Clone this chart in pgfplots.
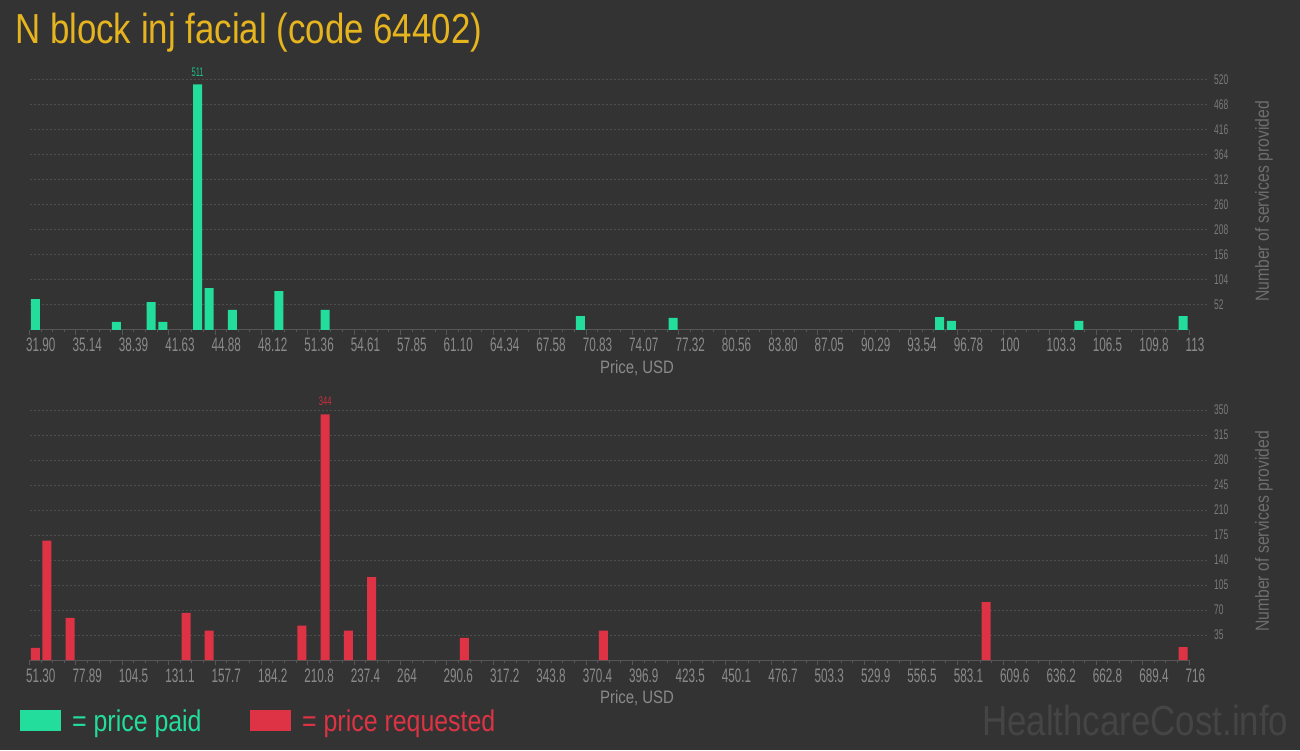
\documentclass[border=0pt]{standalone}
\usepackage{fontspec}
\setmainfont{Liberation Sans}[FakeStretch=0.83]
\newfontfamily\condfont{Liberation Sans}[FakeStretch=0.6]
\usepackage{pgfplots}
\pgfplotsset{compat=1.18}
\definecolor{bg}{HTML}{333333}
\definecolor{titlecol}{HTML}{E6B41E}
\definecolor{paid}{HTML}{22DD9B}
\definecolor{paidlab}{HTML}{1DBF87}
\definecolor{req}{HTML}{DD3344}
\definecolor{reqlab}{HTML}{C9303F}
\definecolor{gridcol}{HTML}{4E4E4E}
\definecolor{axiscol}{HTML}{565656}
\definecolor{ticklab}{HTML}{8A8A8A}
\definecolor{yticklab}{HTML}{7A7A7A}
\definecolor{ylabcol}{HTML}{6E6E6E}
\definecolor{wmcol}{HTML}{454545}
\pgfplotsset{
  hcstyle/.style={
    anchor=south west, scale only axis, width=1159.5pt, height=250pt,
    xmin=0, xmax=100, ymin=0,
    axis x line*=bottom, axis y line*=right,
    axis line style={-, draw=axiscol, line width=1pt},
    y axis line style={draw=none},
    xtick={0,4,...,100}, minor x tick num=3,
    ymajorgrids,
    grid style={draw=gridcol, dash pattern=on 2pt off 2pt, line width=1pt},
    tick align=outside, major tick length=5pt, minor tick length=2.5pt,
    xtick style={draw=axiscol, line width=1pt},
    ytick style={draw=none},
    /pgf/number format/assume math mode=true,
    xticklabel style={font=\condfont\fontsize{19.5}{20}\selectfont, text=ticklab,
      anchor=base west, inner sep=0pt, xshift=-3.5pt, yshift=-17pt},
    yticklabel style={font=\condfont\fontsize{14}{15}\selectfont, text=yticklab,
      anchor=west, inner sep=0pt, xshift=20pt},
    ybar, bar width=9pt,
    clip=false,
  }
}
\begin{document}
\begin{tikzpicture}[x=1pt,y=1pt]
\fill[bg] (0,0) rectangle (1300,750);
\node[anchor=base west, inner sep=0pt, text=titlecol, font=\fontsize{42}{48}\selectfont] at (15,706) {N block inj facial (code 64402)};

% ---- top: price paid ----
\begin{axis}[hcstyle, at={(29.5pt,420pt)}, ymax=520,
  ytick={52,104,156,208,260,312,364,416,468,520},
  xticklabels={31.90,35.14,38.39,41.63,44.88,48.12,51.36,54.61,57.85,61.10,64.34,67.58,70.83,74.07,77.32,80.56,83.80,87.05,90.29,93.54,96.78,100,103.3,106.5,109.8,113}]
\addplot[fill=paid, draw=none] coordinates {
 (0.5,64) (7.5,17) (10.5,58) (11.5,17) (14.5,511) (15.5,87) (17.5,42) (21.5,81)
 (25.5,42) (47.5,29) (55.5,25) (78.5,27) (79.5,19) (90.5,19) (99.5,29)};
\pgfplotsinvokeforeach{52,104,156,208,260,312,364,416,468,520}{
  \draw[gridcol, dash pattern=on 2pt off 2pt, line width=1pt] (axis cs:100,#1) -- ++(18pt,0);
}
\node[anchor=south, inner sep=0pt, yshift=8pt, text=paidlab, font=\condfont\fontsize{12.5}{13}\selectfont] at (axis cs:14.5,511) {511};
\end{axis}

% ---- bottom: price requested ----
\begin{axis}[hcstyle, at={(29.5pt,90pt)}, ymax=350,
  ytick={35,70,105,140,175,210,245,280,315,350},
  xticklabels={51.30,77.89,104.5,131.1,157.7,184.2,210.8,237.4,264,290.6,317.2,343.8,370.4,396.9,423.5,450.1,476.7,503.3,529.9,556.5,583.1,609.6,636.2,662.8,689.4,716}]
\addplot[fill=req, draw=none] coordinates {
 (0.5,17) (1.5,167) (3.5,59) (13.5,66) (15.5,41) (23.5,48) (25.5,344) (27.5,41)
 (29.5,116) (37.5,31) (49.5,41) (82.5,81) (99.5,18)};
\pgfplotsinvokeforeach{35,70,105,140,175,210,245,280,315,350}{
  \draw[gridcol, dash pattern=on 2pt off 2pt, line width=1pt] (axis cs:100,#1) -- ++(18pt,0);
}
\node[anchor=south, inner sep=0pt, yshift=8pt, text=reqlab, font=\condfont\fontsize{12.5}{13}\selectfont] at (axis cs:25.5,344) {344};
\end{axis}

% axis titles
\node[text=ticklab, font=\fontsize{18}{20}\selectfont] at (637,382) {Price, USD};
\node[text=ticklab, font=\fontsize{18}{20}\selectfont] at (637,52) {Price, USD};
\node[rotate=90, text=ylabcol, font=\fontsize{19}{21}\selectfont] at (1264,548.5) {Number of services provided};
\node[rotate=90, text=ylabcol, font=\fontsize{19}{21}\selectfont] at (1264,218.5) {Number of services provided};

% legend
\fill[paid] (20,19) rectangle (61,40);
\node[anchor=base west, inner sep=0pt, text=paid, font=\fontsize{30}{32}\selectfont] at (72,19) {= price paid};
\fill[req] (250,19) rectangle (291,40);
\node[anchor=base west, inner sep=0pt, text=req, font=\fontsize{30}{32}\selectfont] at (302,19) {= price requested};

% watermark
\node[anchor=base west, inner sep=0pt, text=wmcol, font=\fontsize{42}{46}\selectfont] at (982,15) {HealthcareCost.info};

\pgfresetboundingbox
\useasboundingbox (0,0) rectangle (1300,750);
\end{tikzpicture}
\end{document}
